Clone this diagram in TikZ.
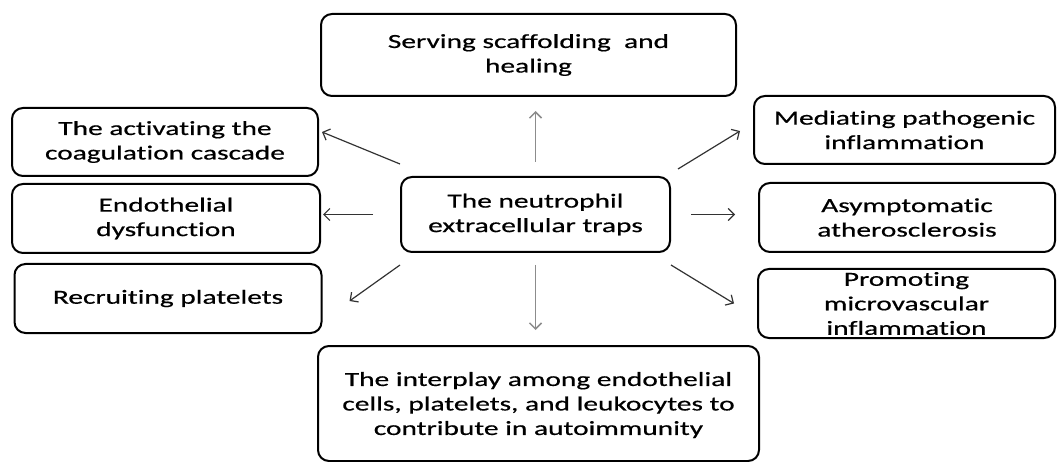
\documentclass[tikz,border=0pt]{standalone}
\usepackage{fontspec}
\setmainfont{Carlito}[FakeStretch=1.47, FakeBold=0.6, Ligatures=NoCommon]
\usetikzlibrary{arrows.meta}

\tikzset{
  box/.style={draw, line width=2pt, rounded corners=11pt, align=center, inner sep=0pt},
  arr/.style={-{Straight Barb[length=6pt,width=12pt]}, line width=1.2pt, draw=black!80},
  garr/.style={arr, line width=1.5pt, draw=black!45},
}

\begin{document}
\begin{tikzpicture}[x=1pt, y=-1pt, font=\fontsize{20}{24.5}\selectfont]
    \useasboundingbox (0,0) rectangle (1057,462);
    \node[box, minimum width=415pt, minimum height=82pt] (ser) at (528.5,55) {Serving scaffolding~ and\\healing};
    \node[box, minimum width=306pt, minimum height=68pt] (coag) at (165,142) {The activating the\\coagulation cascade};
    \node[box, minimum width=308pt, minimum height=69pt] (endo) at (166,218.5) {Endothelial\\dysfunction};
    \node[box, minimum width=307pt, minimum height=69pt] (recr) at (168,298.5) {Recruiting platelets};
    \node[box, minimum width=269pt, minimum height=75pt] (net) at (535.5,214.5) {The neutrophil\\extracellular traps};
    \node[box, minimum width=301pt, minimum height=68pt] (medi) at (904.5,130) {Mediating pathogenic\\inflammation};
    \node[box, minimum width=296pt, minimum height=69pt] (asym) at (907,217.5) {Asymptomatic\\atherosclerosis};
    \node[box, minimum width=297pt, minimum height=69pt] (prom) at (906.5,303.5) {Promoting\\microvascular\\inflammation};
    \node[box, minimum width=441pt, minimum height=115pt, text depth=-6pt] (inter) at (538.5,403.5) {The interplay among endothelial\\cells, platelets, and leukocytes to\\contribute in autoimmunity};
    % arrows out of the traps
    \draw[garr, shorten <=14pt, shorten >=14pt] (net.north) -- (net.north |- ser.south);
    \draw[garr, shorten <=12pt, shorten >=15pt] (net.south) -- (net.south |- inter.north);
    \draw[arr, shorten <=27pt, shorten >=2pt] (net.west) -- (net.west -| endo.east);
    \draw[arr, shorten <=20pt, shorten >=23pt] (net.east) -- (net.east -| asym.west);
    \draw[arr] ([yshift=12pt]net.north west) -- ([shift={(3pt,10pt)}]coag.east);
    \draw[arr] ([yshift=-12pt]net.south west) -- ([shift={(27pt,-2.5pt)}]recr.east);
    \draw[arr] ([shift={(7pt,7pt)}]net.north east) -- ([shift={(-13pt,-1pt)}]medi.west);
    \draw[arr] ([yshift=-12pt]net.south east) -- ([xshift=-23pt]prom.west);
\end{tikzpicture}
\end{document}
